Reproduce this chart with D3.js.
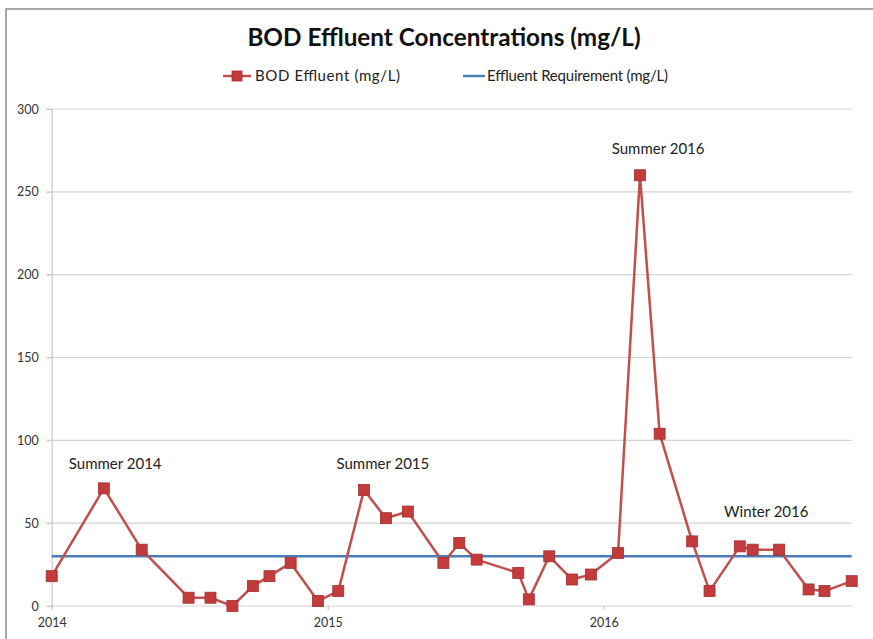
<!DOCTYPE html>
<html>
<head>
<meta charset="utf-8">
<script src="https://cdn.jsdelivr.net/npm/d3@7"></script>
<style>
  html, body { margin: 0; padding: 0; background: #fff; }
  svg { display: block; font-family: Lato, "Open Sans", sans-serif; }
</style>
</head>
<body>
<svg id="chart" width="873" height="639"></svg>
<script>
// Sample dates and BOD effluent readings (mg/L)
const sampleDates = [
  "2014-01-01", "2014-03-11", "2014-04-30", "2014-07-01", "2014-07-30", "2014-08-28",
  "2014-09-24", "2014-10-16", "2014-11-13", "2014-12-19", "2015-01-15", "2015-02-18",
  "2015-03-19", "2015-04-17", "2015-06-03", "2015-06-24", "2015-07-17", "2015-09-10",
  "2015-09-24", "2015-10-21", "2015-11-20", "2015-12-15", "2016-01-20", "2016-02-18",
  "2016-03-15", "2016-04-27", "2016-05-20", "2016-06-29", "2016-07-16", "2016-08-20",
  "2016-09-28", "2016-10-19", "2016-11-24"
];
const bodEffluent = [
  18, 71, 34, 5, 5, 0,
  12, 18, 26, 3, 9, 70,
  53, 57, 26, 38, 28, 20,
  4, 30, 16, 19, 32, 260,
  104, 39, 9, 36, 34, 34,
  10, 9, 15
];
const effluentRequirement = 30;

// Axis ticks
const yTicks = [0, 50, 100, 150, 200, 250, 300];
const xTickYears = ["2014-01-01", "2015-01-01", "2016-01-01"];

// Seasonal annotations (centre date, value)
const noteText = ["Summer 2014", "Summer 2015", "Summer 2016", "Winter 2016"];
const noteDate = ["2014-03-26", "2015-03-15", "2016-03-13", "2016-08-03"];
const noteValue = [86, 86, 276, 57];

const titleText = "BOD Effluent Concentrations (mg/L)";
const seriesNames = ["BOD Effluent (mg/L)", "Effluent Requirement (mg/L)"];

const parse = d3.utcParse("%Y-%m-%d");
const data = sampleDates.map((d, i) => ({ date: parse(d), value: bodEffluent[i] }));

const svg = d3.select("#chart");
const W = 873, H = 639;
const margin = { left: 51.7, right: W - 851.7, top: 109, bottom: H - 606 };

const x = d3.scaleUtc()
  .domain([parse(xTickYears[0]), d3.max(data, d => d.date)])
  .range([margin.left, W - margin.right]);
const y = d3.scaleLinear()
  .domain([0, 300])
  .range([H - margin.bottom, margin.top]);

const red = "#c0504d", redMark = "#c43b3b", redEdge = "#a23030", blue = "#4a7ebb";

// Chart frame
svg.append("rect")
  .attr("x", 6).attr("y", 9).attr("width", W + 10).attr("height", H + 10)
  .attr("fill", "#fff").attr("stroke", "#8c8c8c").attr("stroke-width", 1.5);

// Title
svg.append("text")
  .attr("x", 444).attr("y", 46)
  .attr("text-anchor", "middle")
  .attr("font-size", 24.3).attr("font-weight", 700).attr("fill", "#111")
  .text(titleText);

// Legend
const lg = svg.append("g").attr("font-size", 15).attr("fill", "#222");
lg.append("line").attr("x1", 223).attr("x2", 251).attr("y1", 76).attr("y2", 76)
  .attr("stroke", red).attr("stroke-width", 2.5);
lg.append("rect").attr("x", 232).attr("y", 71).attr("width", 10).attr("height", 10)
  .attr("fill", redMark).attr("stroke", redEdge).attr("stroke-width", 0.8);
lg.append("text").attr("x", 255).attr("y", 81).attr("textLength", 145).text(seriesNames[0]);
lg.append("line").attr("x1", 463).attr("x2", 485).attr("y1", 76).attr("y2", 76)
  .attr("stroke", blue).attr("stroke-width", 2.5);
lg.append("text").attr("x", 487).attr("y", 81).attr("textLength", 181).text(seriesNames[1]);

// Horizontal gridlines
svg.append("g")
  .selectAll("line").data(yTicks).join("line")
  .attr("x1", margin.left - 5).attr("x2", W - margin.right)
  .attr("y1", d => y(d)).attr("y2", d => y(d))
  .attr("stroke", "#d4d4d4").attr("stroke-width", 1.2);

// Y axis
const yAxis = svg.append("g")
  .attr("transform", `translate(${margin.left},0)`)
  .call(d3.axisLeft(y).tickValues(yTicks).tickSize(5).tickPadding(8));
yAxis.select(".domain").attr("stroke", "#c8c8c8").attr("stroke-width", 1.2);
yAxis.selectAll(".tick line").attr("stroke", "#c8c8c8");
yAxis.selectAll("text").attr("font-family", "Lato, sans-serif").attr("font-size", 12.5).attr("fill", "#333");

// X axis
const xAxis = svg.append("g")
  .attr("transform", `translate(0,${H - margin.bottom})`)
  .call(d3.axisBottom(x).tickValues(xTickYears.map(parse))
    .tickFormat(d3.utcFormat("%Y")).tickSize(4).tickPadding(8));
xAxis.select(".domain").remove();
xAxis.selectAll(".tick line").attr("stroke", "#bdbdbd");
xAxis.selectAll("text").attr("font-family", "Lato, sans-serif").attr("font-size", 12.5).attr("fill", "#333");

// Requirement line
svg.append("line")
  .attr("x1", margin.left).attr("x2", W - margin.right)
  .attr("y1", y(effluentRequirement)).attr("y2", y(effluentRequirement))
  .attr("stroke", blue).attr("stroke-width", 2.5);

// BOD series
svg.append("path")
  .datum(data)
  .attr("fill", "none").attr("stroke", red).attr("stroke-width", 2.5)
  .attr("stroke-linejoin", "round")
  .attr("d", d3.line().x(d => x(d.date)).y(d => y(d.value)));

svg.append("g")
  .selectAll("rect").data(data).join("rect")
  .attr("x", d => x(d.date) - 5.5).attr("y", d => y(d.value) - 5.5)
  .attr("width", 11).attr("height", 11)
  .attr("fill", redMark).attr("stroke", redEdge).attr("stroke-width", 0.8);

// Seasonal notes
svg.append("g")
  .selectAll("text").data(noteText).join("text")
  .attr("x", (d, i) => x(parse(noteDate[i])))
  .attr("y", (d, i) => y(noteValue[i]))
  .attr("dy", "0.35em")
  .attr("text-anchor", "middle")
  .attr("font-size", 15).attr("fill", "#222")
  .text(d => d);
</script>
</body>
</html>
